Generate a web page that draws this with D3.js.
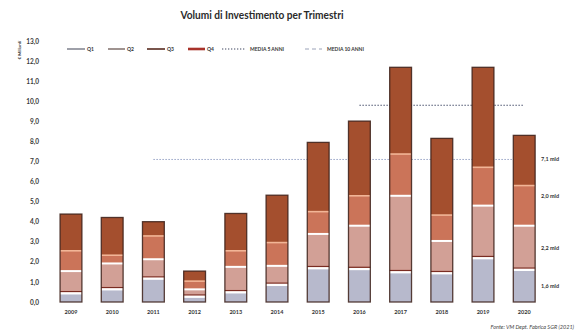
<!DOCTYPE html>
<html>
<head>
<meta charset="utf-8">
<script src="https://cdn.jsdelivr.net/npm/d3@7/dist/d3.min.js"></script>
<style>
  html, body { margin: 0; padding: 0; background: #fff; }
  svg { display: block; }
  text { font-family: Lato, "Open Sans", "DejaVu Sans", sans-serif; }
</style>
</head>
<body>
<svg id="chart" width="578" height="335"></svg>
<script>
// Volumi di investimento per trimestre (miliardi di euro)
const years = ["2009","2010","2011","2012","2013","2014","2015","2016","2017","2018","2019","2020"];
const q1 = [0.43, 0.63, 1.16, 0.26, 0.48, 0.85, 1.68, 1.64, 1.48, 1.43, 2.18, 1.6];
const q2 = [1.11, 1.29, 0.97, 0.37, 1.27, 0.95, 1.71, 2.16, 3.81, 1.61, 2.62, 2.2];
const q3 = [1.01, 0.41, 1.16, 0.41, 0.80, 1.16, 1.11, 1.49, 2.08, 1.29, 1.91, 2.0];
const q4 = [1.83, 1.88, 0.71, 0.50, 1.86, 2.36, 3.45, 3.72, 4.32, 3.82, 4.98, 2.5];
const seriesNames = ["Q1","Q2","Q3","Q4"];
const seriesColors = ["#b7b9cc","#d2a096","#cb7459","#a44f2e"];
const legendSwatch = ["#5d6070","#5e4a46","#6a4238","#a8322a"];

// Medie mobili: valore, primo e ultimo anno
const avgNames = ["MEDIA 5 ANNI","MEDIA 10 ANNI"];
const avgValues = [9.8, 7.1];
const avgFrom = ["2016","2011"];
const avgTo = ["2020","2020"];

const yTicks = [0,1,2,3,4,5,6,7,8,9,10,11,12,13];

const itLocale = d3.formatLocale({decimal: ",", thousands: ".", grouping: [3], currency: ["€", ""]});
const fmt1 = itLocale.format(".1f");

const svg = d3.select("#chart");

const x = d3.scaleBand().domain(years).range([40.7, 554.5]).padding(0.47);
const y = d3.scaleLinear().domain([0, 13]).range([302, 41]);

// Titolo
svg.append("text")
  .attr("x", 262).attr("y", 19)
  .attr("text-anchor", "middle")
  .attr("font-size", 10.5).attr("font-weight", 700).attr("fill", "#2a2a2a")
  .attr("textLength", 163).attr("lengthAdjust", "spacingAndGlyphs")
  .text("Volumi di Investimento per Trimestri");

// Asse Y (solo etichette)
const yAxis = d3.axisLeft(y).tickValues(yTicks).tickFormat(fmt1).tickSize(0).tickPadding(0);
const gy = svg.append("g").attr("transform", "translate(39,0)").call(yAxis);
gy.select(".domain").remove();
gy.selectAll("text")
  .attr("font-size", 6.5).attr("font-weight", 700).attr("fill", "#3a3a3a")
  .style("font-family", "Lato, 'Open Sans', sans-serif");

svg.append("text")
  .attr("transform", "translate(21,50) rotate(-90)")
  .attr("text-anchor", "middle")
  .attr("font-size", 4.5).attr("font-weight", 700).attr("fill", "#333")
  .text("€ Miliardi");

// Linee delle medie (dietro alle barre)
const avgStyles = [
  {stroke: "#4d5570", dash: "1.5,1.5", width: 1.1},
  {stroke: "#8a98c0", dash: "1.5,1.5", width: 0.9}
];
avgValues.forEach((v, i) => {
  svg.append("line")
    .attr("x1", x(avgFrom[i]) + x.bandwidth() / 2)
    .attr("x2", x(avgTo[i]) + x.bandwidth() / 2)
    .attr("y1", y(v)).attr("y2", y(v))
    .attr("stroke", avgStyles[i].stroke)
    .attr("stroke-width", avgStyles[i].width)
    .attr("stroke-dasharray", avgStyles[i].dash);
});

// Barre impilate
const table = years.map((yr, i) => ({year: yr, Q1: q1[i], Q2: q2[i], Q3: q3[i], Q4: q4[i]}));
const stacked = d3.stack().keys(seriesNames)(table);

const bars = svg.append("g");
stacked.forEach((layer, li) => {
  bars.append("g").selectAll("rect")
    .data(layer)
    .join("rect")
    .attr("x", d => x(d.data.year))
    .attr("width", x.bandwidth())
    .attr("y", d => y(d[1]))
    .attr("height", d => y(d[0]) - y(d[1]))
    .attr("fill", seriesColors[li]);
});

// Separatori tra i trimestri
const sepStyles = [
  {color: "#ffffff", w: 2.2, dark: true},
  {color: "#ffffff", w: 2.0, dark: false},
  {color: "#f2b596", w: 1.6, dark: false}
];
[0, 1, 2].forEach(li => {
  const layer = stacked[li];
  if (sepStyles[li].dark) {
    bars.append("g").selectAll("line")
      .data(layer).join("line")
      .attr("x1", d => x(d.data.year)).attr("x2", d => x(d.data.year) + x.bandwidth())
      .attr("y1", d => y(d[1]) - 1.8).attr("y2", d => y(d[1]) - 1.8)
      .attr("stroke", "#7a2c22").attr("stroke-width", 1.2);
  }
  bars.append("g").selectAll("line")
    .data(layer).join("line")
    .attr("x1", d => x(d.data.year)).attr("x2", d => x(d.data.year) + x.bandwidth())
    .attr("y1", d => y(d[1])).attr("y2", d => y(d[1]))
    .attr("stroke", sepStyles[li].color).attr("stroke-width", sepStyles[li].w);
});

// Contorno scuro delle barre
bars.append("g").selectAll("rect")
  .data(stacked[3])
  .join("rect")
  .attr("x", d => x(d.data.year))
  .attr("width", x.bandwidth())
  .attr("y", d => y(d[1]))
  .attr("height", d => y(0) - y(d[1]))
  .attr("fill", "none")
  .attr("stroke", "#3b1f18").attr("stroke-width", 1.3).attr("stroke-opacity", 0.85);

// Asse X (anni)
const xAxis = d3.axisBottom(x).tickSize(0).tickPadding(0);
const gx = svg.append("g").attr("transform", "translate(0,310)").call(xAxis);
gx.select(".domain").remove();
gx.selectAll("text")
  .attr("font-size", 5.5).attr("font-weight", 700).attr("fill", "#333")
  .style("font-family", "Lato, 'Open Sans', sans-serif");

// Etichette di valore a destra
const last = years.length - 1;
const rightX = 541;
svg.append("text")
  .attr("x", rightX).attr("y", y(avgValues[1]) + 2)
  .attr("font-size", 5.5).attr("font-weight", 700).attr("fill", "#333")
  .text(fmt1(avgValues[1]) + " mld");
[["Q3", 2], ["Q2", 1], ["Q1", 0]].forEach(([name, li]) => {
  const d = stacked[li][last];
  const yy = li === 2 ? y(d[1]) + 10 : (y(d[0]) + y(d[1])) / 2;
  svg.append("text")
    .attr("x", rightX).attr("y", yy + 2)
    .attr("font-size", 5.5).attr("font-weight", 700).attr("fill", "#333")
    .text(fmt1(d[1] - d[0]) + " mld");
});

// Legenda
const legendY = 49;
const legendItems = [
  {sx: 67, ex: 85, tx: 87, label: "Q1", stroke: legendSwatch[0], w: 1.2, dash: null},
  {sx: 108, ex: 125, tx: 127, label: "Q2", stroke: legendSwatch[1], w: 1.2, dash: null},
  {sx: 147, ex: 165, tx: 167, label: "Q3", stroke: legendSwatch[2], w: 1.8, dash: null},
  {sx: 188, ex: 205, tx: 207, label: "Q4", stroke: legendSwatch[3], w: 2.6, dash: null},
  {sx: 222, ex: 246, tx: 250, label: avgNames[0], stroke: "#3e4660", w: 1.1, dash: "1.3,1.7"},
  {sx: 305, ex: 322, tx: 327, label: avgNames[1], stroke: "#9aa2b8", w: 1.0, dash: "4,3"}
];
const lg = svg.append("g");
legendItems.forEach(it => {
  lg.append("line")
    .attr("x1", it.sx).attr("x2", it.ex).attr("y1", legendY).attr("y2", legendY)
    .attr("stroke", it.stroke).attr("stroke-width", it.w)
    .attr("stroke-dasharray", it.dash);
  lg.append("text")
    .attr("x", it.tx).attr("y", legendY + 1.8)
    .attr("font-size", 5).attr("font-weight", 700).attr("fill", "#333")
    .text(it.label);
});

// Fonte
svg.append("text")
  .attr("x", 574).attr("y", 329)
  .attr("text-anchor", "end")
  .attr("font-size", 5.5).attr("font-style", "italic").attr("fill", "#444")
  .text("Fonte: VM Dept. Fabrica SGR (2021)");
</script>
</body>
</html>
